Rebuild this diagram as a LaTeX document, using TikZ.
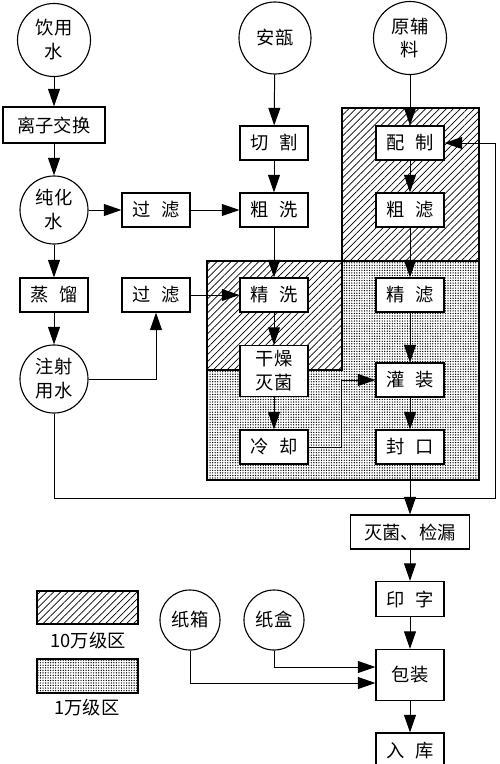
\documentclass[tikz,border=0pt]{standalone}
\usepackage{fontspec}
\setmainfont{Noto Sans CJK SC}
\usepackage{tikz}
\usetikzlibrary{arrows.meta, patterns.meta, calc}
\newcommand{\ksp}{\hspace{0.6em}}

\begin{document}
\begin{tikzpicture}[x=0.025cm,y=-0.025cm,>={Triangle[length=12.5pt,width=8.5pt]},
        font=\fontsize{13}{17}\selectfont,
        proc/.style={draw,line width=0.8pt,fill=white,minimum width=1.7cm,minimum height=0.85cm,inner sep=0pt,align=center},
        src/.style={circle,draw,line width=0.8pt,fill=white,minimum size=1.7cm,inner sep=0pt,align=center},
        flow/.style={->,line width=0.7pt},
        hatch/.style={draw,line width=0.8pt,pattern={Lines[angle=45,distance=3.5pt,line width=0.5pt]}},
        dotted zone/.style={draw,line width=0.8pt,pattern={Dots[distance=1.8pt,radius=0.5pt]}}]
        \useasboundingbox (0,0) rectangle (500,764);
        % clean zones
        \path[hatch] (342,108) rectangle (479,261);
        \path[hatch] (207,261) rectangle (342,370);
        \path[dotted zone] (342,261) -- (479,261) -- (479,480) -- (207,480) -- (207,370) -- (342,370) -- cycle;
        % water line
        \node[src,minimum size=1.825cm](yys) at (54,40) {饮用\\水};
        \node[proc,minimum width=2.55cm,minimum height=0.9cm](lzjh) at (54,125) {离子交换};
        \node[src](chs) at (54,210) {纯化\\水};
        \node[proc](gl1) at (156,210) {过\ksp 滤};
        \node[proc](zl) at (54,295) {蒸\ksp 馏};
        \node[proc](gl2) at (156,295) {过\ksp 滤};
        \node[src](zsys) at (54,379) {注射\\用水};
        % ampoule line
        \node[src,minimum size=1.8cm](ab) at (275,38) {安瓿};
        \node[proc](qg) at (274,143) {切\ksp 割};
        \node[proc](cx) at (274,210) {粗\ksp 洗};
        \node[proc](jx) at (274,295) {精\ksp 洗};
        \node[proc,minimum height=1.275cm](gzmj) at (274,371) {干燥\\灭菌};
        \node[proc](lq) at (274,447) {冷\ksp 却};
        % liquid line
        \node[src,minimum size=1.825cm](yfl) at (410,38) {原辅\\料};
        \node[proc](pz) at (410,143) {配\ksp 制};
        \node[proc](cl) at (410,210) {粗\ksp 滤};
        \node[proc](jl) at (410,295) {精\ksp 滤};
        \node[proc](gz) at (410,380) {灌\ksp 装};
        \node[proc](fk) at (410,447) {封\ksp 口};
        \node[proc,minimum width=2.975cm](mjjl) at (410,532) {灭菌、检漏};
        \node[proc,minimum height=0.875cm](yz) at (410,599) {印\ksp 字};
        \node[proc,minimum height=1.275cm](bz) at (410,675) {包装};
        \node[proc,minimum height=0.9cm](rk) at (410,751) {入\ksp 库};
        \node[src,minimum size=1.5cm](zx) at (190,620) {纸箱};
        \node[src,minimum size=1.5cm](zh) at (274,620) {纸盒};
        % legend
        \path[hatch] (37,591) rectangle (138,624);
        \node(l10) at (88,641) {10万级区};
        \path[dotted zone] (37,659) rectangle (138,693);
        \node(l1) at (87,708) {1万级区};
        \coordinate(loopR) at (495,498);

        \path[flow](yys)	edge	(lzjh)
        		(lzjh)	edge	(chs)
        		(chs)	edge	(gl1)
        				edge	(zl)
        		(zl)	edge	(zsys)
        		(gl1)	edge	(cx)
        		(gl2)	edge	(jx)
        		(ab)	edge	(qg)
        		(qg)	edge	(cx)
        		(cx)	edge	(jx)
        		(jx)	edge	(gzmj)
        		(gzmj)	edge	(lq)
        		(yfl)	edge	(pz)
        		(pz)	edge	(cl)
        		(cl)	edge	(jl)
        		(jl)	edge	(gz)
        		(gz)	edge	(fk)
        		(fk)	edge	(mjjl)
        		(mjjl)	edge	(yz)
        		(yz)	edge	(bz)
        		(bz)	edge	(rk);
        \draw[flow] (zsys.east) -| (gl2.south);
        \draw[flow] (lq.east) -- ++(33,0) |- (gz.west);
        \draw[flow] (zsys.south) |- (loopR) |- (pz.east);
        \draw[flow] (zh.south) |- ($(bz.west)+(0,-8)$);
        \draw[flow] (zx.south) |- ($(bz.west)+(0,8)$);
\end{tikzpicture}
\end{document}
